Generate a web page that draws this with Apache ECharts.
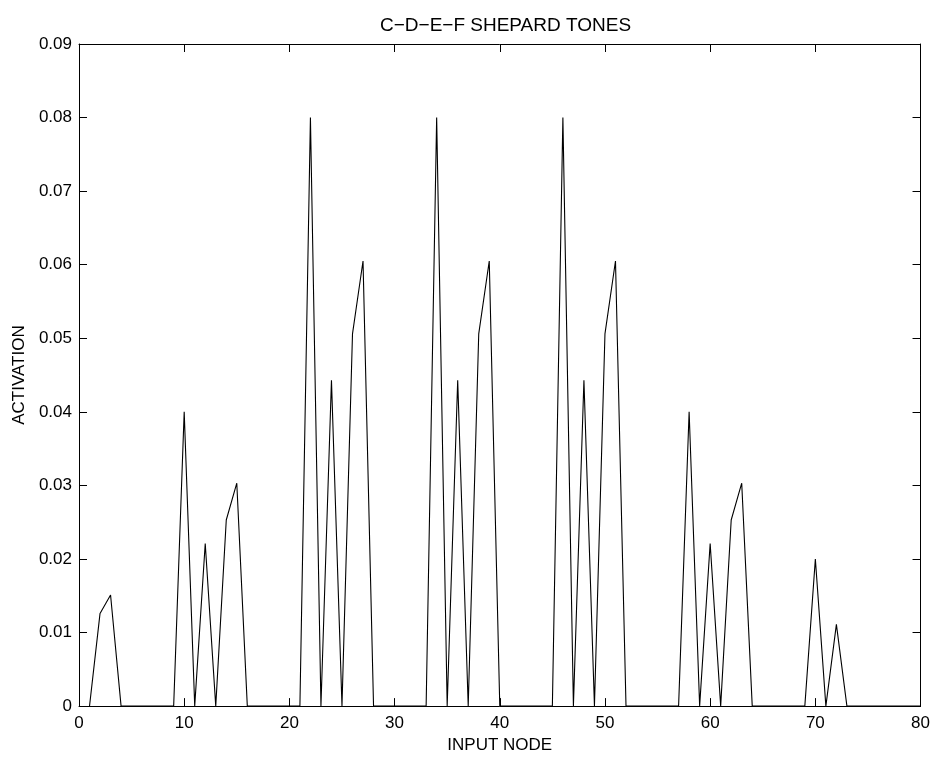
<!DOCTYPE html>
<html>
<head>
<meta charset="utf-8">
<script src="https://cdn.jsdelivr.net/npm/echarts@6/dist/echarts.min.js"></script>
<style>
html,body{margin:0;padding:0;background:#fff;}
#chart{width:933px;height:759px;}
</style>
</head>
<body>
<div id="chart"></div>
<script>
const titleText = 'C\u2212D\u2212E\u2212F SHEPARD TONES';
const xName = 'INPUT NODE';
const yName = 'ACTIVATION';
const inputNodes = [1,2,3,4,5,6,7,8,9,10,11,12,13,14,15,16,17,18,19,20,
  21,22,23,24,25,26,27,28,29,30,31,32,33,34,35,36,37,38,39,40,
  41,42,43,44,45,46,47,48,49,50,51,52,53,54,55,56,57,58,59,60,
  61,62,63,64,65,66,67,68,69,70,71,72,73,74,75,76,77,78,79,80];
const activation = [0,0.0126,0.0151,0,0,0,0,0,0,0.0400,0,0.0221,0,0.0253,0.0303,0,0,0,0,0,
  0,0.0800,0,0.0443,0,0.0506,0.0605,0,0,0,0,0,0,0.0800,0,0.0443,0,0.0506,0.0605,0,
  0,0,0,0,0,0.0800,0,0.0443,0,0.0506,0.0605,0,0,0,0,0,0,0.0400,0,0.0221,
  0,0.0253,0.0303,0,0,0,0,0,0,0.0200,0,0.0111,0,0,0,0,0,0,0,0];
const xTicks = [0,10,20,30,40,50,60,70,80];
const yTicks = [0,0.01,0.02,0.03,0.04,0.05,0.06,0.07,0.08,0.09];

const font = 'Liberation Sans, Arial, Helvetica, sans-serif';
const chart = echarts.init(document.getElementById('chart'), null, {renderer:'canvas'});
const lineStyle = {color:'#000', width:1};
const fmtY = v => (Math.abs(v) < 1e-9 ? '0' : v.toFixed(2));
chart.setOption({
  animation:false,
  backgroundColor:'#fff',
  title:{text:titleText, left:375, top:11,
    textStyle:{fontFamily:font, fontSize:19, fontWeight:'normal', color:'#000'}},
  grid:{left:79, right:12, top:44, bottom:48, containLabel:false},
  xAxis:[
    {type:'value', min:xTicks[0], max:xTicks[xTicks.length-1], interval:10, position:'bottom',
     name:xName, nameLocation:'middle', nameGap:30,
     nameTextStyle:{fontFamily:font, fontSize:17, color:'#000'},
     axisLine:{show:true, onZero:false, lineStyle:lineStyle},
     axisTick:{show:true, inside:true, length:8, lineStyle:lineStyle},
     axisLabel:{show:true, margin:9, fontFamily:font, fontSize:17, color:'#000'},
     splitLine:{show:false}},
    {type:'value', min:xTicks[0], max:xTicks[xTicks.length-1], interval:10, position:'top',
     axisLine:{show:true, onZero:false, lineStyle:lineStyle},
     axisTick:{show:true, inside:true, length:8, lineStyle:lineStyle},
     axisLabel:{show:false}, splitLine:{show:false}}
  ],
  yAxis:[
    {type:'value', min:yTicks[0], max:yTicks[yTicks.length-1], interval:0.01, position:'left',
     name:yName, nameLocation:'middle', nameGap:44, nameRotate:90,
     nameTextStyle:{fontFamily:font, fontSize:17, color:'#000'},
     axisLine:{show:true, onZero:false, lineStyle:lineStyle},
     axisTick:{show:true, inside:true, length:8, lineStyle:lineStyle},
     axisLabel:{show:true, margin:7, fontFamily:font, fontSize:17, color:'#000', formatter:fmtY},
     splitLine:{show:false}},
    {type:'value', min:yTicks[0], max:yTicks[yTicks.length-1], interval:0.01, position:'right',
     axisLine:{show:true, onZero:false, lineStyle:lineStyle},
     axisTick:{show:true, inside:true, length:8, lineStyle:lineStyle},
     axisLabel:{show:false}, splitLine:{show:false}}
  ],
  series:[{
    type:'line', xAxisIndex:0, yAxisIndex:0,
    data: inputNodes.map((x,i)=>[x, activation[i]]),
    showSymbol:false, symbol:'none',
    lineStyle:{color:'#000', width:1.1},
    itemStyle:{color:'#000'},
    clip:true
  }]
});
</script>
</body>
</html>
